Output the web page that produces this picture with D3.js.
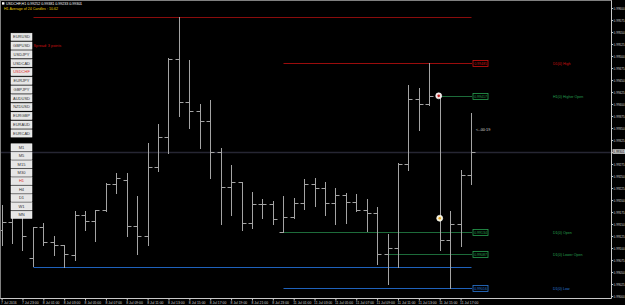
<!DOCTYPE html>
<html><head><meta charset="utf-8">
<script src="https://cdn.jsdelivr.net/npm/d3@7"></script>
<style>
body{margin:0;background:#000;overflow:hidden}
svg{display:block}
text{font-family:"Liberation Sans",Arial,sans-serif}
</style>
</head><body>
<svg id="c" width="625" height="305"></svg>
<script>
// ---------------- data ----------------
const symbol = "USDCHF";
const period = "H1";
const barTimes = [
 "7 Jul 21:00","7 Jul 22:00","7 Jul 23:00",
 "8 Jul 00:00","8 Jul 01:00","8 Jul 02:00","8 Jul 03:00","8 Jul 04:00","8 Jul 05:00","8 Jul 06:00","8 Jul 07:00",
 "8 Jul 08:00","8 Jul 09:00","8 Jul 10:00","8 Jul 11:00","8 Jul 12:00","8 Jul 13:00","8 Jul 14:00","8 Jul 15:00",
 "8 Jul 16:00","8 Jul 17:00","8 Jul 18:00","8 Jul 19:00","8 Jul 20:00","8 Jul 21:00","8 Jul 22:00","8 Jul 23:00",
 "11 Jul 00:00","11 Jul 01:00","11 Jul 02:00","11 Jul 03:00","11 Jul 04:00","11 Jul 05:00","11 Jul 06:00","11 Jul 07:00",
 "11 Jul 08:00","11 Jul 09:00","11 Jul 10:00","11 Jul 11:00","11 Jul 12:00","11 Jul 13:00","11 Jul 14:00","11 Jul 15:00",
 "11 Jul 16:00","11 Jul 17:00","11 Jul 18:00"
];
const openP  = [0.99137,0.99154,0.99165,0.99079,0.99143,0.99113,0.99106,0.99086,0.99168,0.99156,0.99179,0.99234,0.99242,0.99146,0.99125,0.99269,0.99331,0.99493,0.99404,0.99386,0.99365,0.99301,0.99228,0.99237,0.99153,0.99192,0.99192,0.99134,0.99164,0.99194,0.99233,0.99224,0.99193,0.99210,0.99195,0.99179,0.99172,0.99087,0.99101,0.99276,0.99410,0.99400,0.99417,0.99117,0.99149,0.99252];
const highP  = [0.99190,0.99176,0.99173,0.99144,0.99153,0.99125,0.99107,0.99178,0.99178,0.99179,0.99235,0.99257,0.99257,0.99208,0.99319,0.99358,0.99495,0.99582,0.99492,0.99401,0.99408,0.99308,0.99273,0.99238,0.99217,0.99202,0.99197,0.99208,0.99204,0.99243,0.99245,0.99238,0.99224,0.99214,0.99212,0.99202,0.99185,0.99129,0.99278,0.99440,0.99433,0.99485,0.99420,0.99177,0.99263,0.99381];
const lowP   = [0.99106,0.99110,0.99096,0.99062,0.99106,0.99085,0.99061,0.99075,0.99137,0.99115,0.99178,0.99214,0.99125,0.99088,0.99106,0.99261,0.99297,0.99374,0.99349,0.99309,0.99246,0.99150,0.99169,0.99137,0.99141,0.99162,0.99151,0.99133,0.99162,0.99181,0.99188,0.99169,0.99150,0.99153,0.99178,0.99136,0.99067,0.99025,0.99061,0.99262,0.99346,0.99398,0.99096,0.99016,0.99104,0.99233];
const closeP = [0.99154,0.99165,0.99125,0.99143,0.99113,0.99106,0.99088,0.99169,0.99156,0.99179,0.99234,0.99245,0.99146,0.99125,0.99269,0.99331,0.99493,0.99404,0.99386,0.99365,0.99301,0.99228,0.99237,0.99153,0.99192,0.99192,0.99160,0.99164,0.99194,0.99233,0.99224,0.99193,0.99210,0.99195,0.99179,0.99172,0.99087,0.99101,0.99276,0.99410,0.99400,0.99417,0.99117,0.99149,0.99252,0.99301];

const priceTicks = [0.99600,0.99575,0.99550,0.99525,0.99500,0.99475,0.99450,0.99425,0.99400,0.99375,0.99350,0.99325,0.99300,0.99275,0.99250,0.99225,0.99200,0.99175,0.99150,0.99125,0.99100,0.99075,0.99050,0.99025,0.99000];
const timeTickBars = [0,2,4,6,8,10,12,14,16,18,20,22,24,26,28,30,32,34,36,38,40,42,44];
const timeTickLabels = ["7 Jul 2016","7 Jul 23:00","8 Jul 01:00","8 Jul 03:00","8 Jul 05:00","8 Jul 07:00","8 Jul 09:00","8 Jul 11:00","8 Jul 13:00","8 Jul 15:00","8 Jul 17:00","8 Jul 19:00","8 Jul 21:00","8 Jul 23:00","11 Jul 01:00","11 Jul 03:00","11 Jul 05:00","11 Jul 07:00","11 Jul 09:00","11 Jul 11:00","11 Jul 13:00","11 Jul 15:00","11 Jul 17:00"];

const symbolButtons = ["EURUSD","GBPUSD","USDJPY","USDCAD","USDCHF","EURJPY","GBPJPY","AUDUSD","NZDUSD","EURGBP","EURAUD","EURCAD"];
const timeframeButtons = ["M1","M5","M15","M30","H1","H4","D1","W1","MN"];
const avgText = "H1 Average of 24 Candles : 10.62";
const spreadText = "Spread: 3 points";
const timerText = "<--00:19";
const timerPrice = 0.99346;
const markerBars = [42, 42];
const markerPrices = [0.99417, 0.99162];

const prevDayStart = 3, dayStart = 27;

// ---------------- drawing ----------------
const W = 625, H = 305;
const plotR = 611.5, plotB = 298.5;
const svg = d3.select("#c");
svg.append("rect").attr("width",W).attr("height",H).attr("fill","#000");

const n = openP.length;
const x = d3.scaleLinear().domain([0, n-1]).range([1.6, 471]);
const y = d3.scaleLinear().domain([priceTicks[0], priceTicks[priceTicks.length-1]]).range([8, 296]);
const px = i => Math.round(x(i)) + 0.5;
const py = v => Math.round(y(v)) + 0.5;

const g = svg.append("g");

// bid line
g.append("line").attr("x1",0).attr("x2",plotR).attr("y1",py(closeP[n-1])).attr("y2",py(closeP[n-1]))
 .attr("stroke","#262633").attr("stroke-width",1.5);

// previous day high / low
const prevHigh = d3.max(highP.slice(prevDayStart, dayStart));
const prevLow = d3.min(lowP.slice(prevDayStart, dayStart));
g.append("line").attr("x1",px(prevDayStart)).attr("x2",px(n-1)).attr("y1",py(prevHigh)).attr("y2",py(prevHigh)).attr("stroke","#8a0c0c");
g.append("line").attr("x1",px(prevDayStart)).attr("x2",px(n-1)).attr("y1",py(prevLow)).attr("y2",py(prevLow)).attr("stroke","#1f62bc");

// today levels
const todayOpens = openP.slice(dayStart);
const hiOpenIdx = dayStart + d3.maxIndex(todayOpens);
const loOpenIdx = dayStart + d3.minIndex(todayOpens);
const levels = [
  {name:"D1(0) High", v:d3.max(highP.slice(dayStart)), from:dayStart, line:"#9a0c0c", col:"#d01010"},
  {name:"H1(0) Higher Open", v:openP[hiOpenIdx], from:hiOpenIdx, line:"#1d6b3a", col:"#27a050"},
  {name:"D1(0) Open", v:openP[dayStart], from:dayStart, line:"#1d6b3a", col:"#27a050"},
  {name:"D1(0) Lower Open", v:openP[loOpenIdx], from:loOpenIdx, line:"#1d6b3a", col:"#27a050"},
  {name:"D1(0) Low", v:d3.min(lowP.slice(dayStart)), from:dayStart, line:"#1f62bc", col:"#2a78d8"}
];
const lvl = g.selectAll("g.lvl").data(levels).join("g").attr("class","lvl");
lvl.append("line").attr("x1",d=>px(d.from)).attr("x2",472).attr("y1",d=>py(d.v)).attr("y2",d=>py(d.v)).attr("stroke",d=>d.line);
lvl.append("rect").attr("x",473).attr("y",d=>py(d.v)-3).attr("width",15).attr("height",6)
  .attr("fill","#000").attr("stroke",d=>d.col).attr("stroke-width",0.8);
lvl.append("text").attr("x",480.5).attr("y",d=>py(d.v)+1.3).attr("text-anchor","middle")
  .attr("font-size",3.5).attr("fill",d=>d.col).text(d=>d.v.toFixed(5));
lvl.append("text").attr("x",553).attr("y",d=>py(d.v)+1.3).attr("font-size",3.6).attr("fill",d=>d.col).text(d=>d.name);

// OHLC bars
const bars = g.selectAll("g.bar").data(d3.range(n)).join("g").attr("class","bar").attr("stroke","#a4a4a4").attr("stroke-width",1);
bars.append("line").attr("x1",i=>px(i)).attr("x2",i=>px(i)).attr("y1",i=>py(highP[i])-0.5).attr("y2",i=>py(lowP[i])+0.5);
bars.append("line").attr("x1",i=>px(i)-4).attr("x2",i=>px(i)).attr("y1",i=>py(openP[i])).attr("y2",i=>py(openP[i]));
bars.append("line").attr("x1",i=>px(i)).attr("x2",i=>px(i)+4).attr("y1",i=>py(closeP[i])).attr("y2",i=>py(closeP[i]));

// markers
g.append("circle").attr("cx",x(markerBars[0])-1).attr("cy",y(markerPrices[0])).attr("r",3).attr("fill","#f4e4e4").attr("stroke","#fff").attr("stroke-width",0.6);
g.append("circle").attr("cx",x(markerBars[0])-1).attr("cy",y(markerPrices[0])).attr("r",1.3).attr("fill","#c02020");
g.append("circle").attr("cx",x(markerBars[1])).attr("cy",y(markerPrices[1])).attr("r",3).attr("fill","#f6f0d0").attr("stroke","#fff").attr("stroke-width",0.6);
g.append("circle").attr("cx",x(markerBars[1])).attr("cy",y(markerPrices[1])).attr("r",1.2).attr("fill","#e0a020");

// timer text
g.append("text").attr("x",x(n-1)+5).attr("y",y(timerPrice)+1.3).attr("font-size",3.8).attr("fill","#d8d8d8").text(timerText);

// axes frame
svg.append("line").attr("x1",plotR).attr("x2",plotR).attr("y1",0).attr("y2",plotB).attr("stroke","#c8c8c8");
svg.append("line").attr("x1",0).attr("x2",plotR).attr("y1",plotB).attr("y2",plotB).attr("stroke","#c8c8c8");
svg.append("line").attr("x1",0).attr("x2",plotR).attr("y1",0.5).attr("y2",0.5).attr("stroke","#808080");
svg.append("line").attr("x1",0.5).attr("x2",0.5).attr("y1",0).attr("y2",plotB).attr("stroke","#808080");

// price axis
const pa = svg.append("g").attr("transform",`translate(${plotR},0)`)
  .call(d3.axisRight(y).tickValues(priceTicks).tickSize(1.5).tickPadding(0.6).tickFormat(d=>d.toFixed(5)));
pa.select(".domain").remove();
pa.selectAll("line").attr("stroke","#c8c8c8");
pa.selectAll("text").attr("fill","#d0d0d0").attr("font-size",3.1).attr("font-family","Liberation Sans, Arial, sans-serif");

// current price label
const cp = closeP[n-1];
svg.append("rect").attr("x",plotR+1).attr("y",y(cp)-2.3).attr("width",12.5).attr("height",4.6).attr("fill","#c8c8c8");
svg.append("text").attr("x",plotR+1.8).attr("y",y(cp)+1.1).attr("font-size",3.1).attr("fill","#000").text(cp.toFixed(5));

// time axis
const ta = svg.append("g").attr("transform",`translate(0,${plotB})`)
  .call(d3.axisBottom(x).tickValues(timeTickBars).tickSize(2).tickFormat((d,k)=>timeTickLabels[k]));
ta.select(".domain").remove();
ta.selectAll("line").attr("stroke","#c8c8c8");
ta.selectAll("text").attr("fill","#d0d0d0").attr("font-size",3.4).attr("text-anchor","start").attr("dx",-1).attr("y",2.6)
  .attr("font-family","Liberation Sans, Arial, sans-serif");

// title
svg.append("rect").attr("x",2).attr("y",2.2).attr("width",2.4).attr("height",2.4).attr("fill","#fff");
svg.append("text").attr("x",6).attr("y",5).attr("font-size",3.6).attr("fill","#fff")
  .text(`${symbol},${period}  ${openP[n-1].toFixed(5)} ${highP[n-1].toFixed(5)} ${lowP[n-1].toFixed(5)} ${closeP[n-1].toFixed(5)}`);
svg.append("text").attr("x",4).attr("y",9.6).attr("font-size",3.6).attr("fill","#e8cc00").text(avgText);

// buttons
const btn = (labels, y0, step, active) => {
  const b = svg.append("g").selectAll("g").data(labels).join("g")
    .attr("transform",(d,i)=>`translate(11,${y0+i*step})`);
  b.append("rect").attr("width",21).attr("height",7.3).attr("fill","#e6e6e6").attr("stroke","#fafafa").attr("stroke-width",0.5);
  b.append("text").attr("x",10.5).attr("y",5).attr("text-anchor","middle").attr("font-size",4)
    .attr("fill",d=>d===active?"#e03030":"#303030").text(d=>d);
};
btn(symbolButtons, 33.2, 8.78, symbol);
btn(timeframeButtons, 143.8, 8.42, period);
svg.append("text").attr("x",33.5).attr("y",47.3).attr("font-size",3.8).attr("fill","#d01010").text(spreadText);
</script>
</body></html>
